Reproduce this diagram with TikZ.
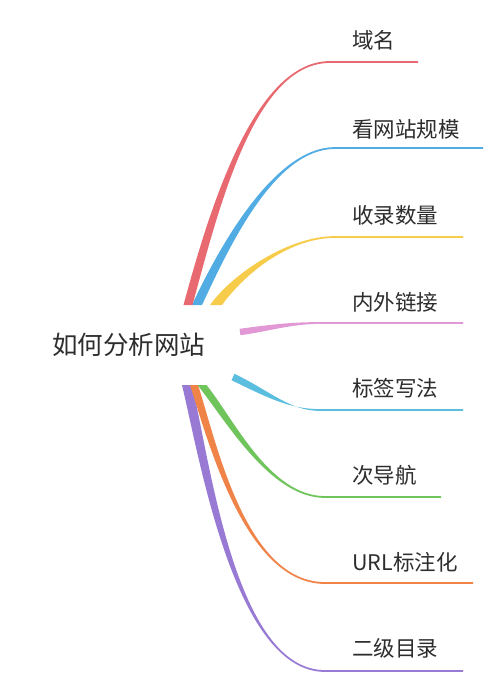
\documentclass[tikz,border=0pt]{standalone}
\usepackage{fontspec}
\newfontfamily\cjkfont{Noto Sans CJK SC}
\usetikzlibrary{calc}
\definecolor{cRed}{RGB}{232,106,112}
\definecolor{cBlue}{RGB}{82,172,228}
\definecolor{cYellow}{RGB}{246,204,74}
\definecolor{cPink}{RGB}{226,152,212}
\definecolor{cCyan}{RGB}{92,190,222}
\definecolor{cGreen}{RGB}{112,196,92}
\definecolor{cOrange}{RGB}{240,132,72}
\definecolor{cPurple}{RGB}{152,122,212}
\definecolor{cText}{RGB}{45,45,45}
% #1 colour, #2 prefix, #3 start half offset, #4 end half offset
\newcommand\tbranch[4]{%
  \fill[#1] ($(#2-0)+(#3)$) .. controls ($(#2-1)+(#3)$) and ($(#2-2)+(#4)$) .. ($(#2-3)+(#4)$)
    -- ($(#2-e)+(#4)$) -- ($(#2-e)-(#4)$) -- ($(#2-3)-(#4)$)
    .. controls ($(#2-2)-(#4)$) and ($(#2-1)-(#3)$) .. ($(#2-0)-(#3)$) -- cycle;}
\begin{document}
\begin{tikzpicture}[x=1pt,y=-1pt,
  lbl/.style={anchor=west,inner sep=0pt,text=cText,font=\cjkfont\fontsize{21.5}{24}\selectfont},
  mainlbl/.style={anchor=west,inner sep=0pt,text=cText,font=\cjkfont\fontsize{25.5}{28}\selectfont}]
\useasboundingbox[fill=white] (0,0) rectangle (500,691);
% red
\coordinate (r-0) at (188,305); \coordinate (r-1) at (215,205); \coordinate (r-2) at (255,62);
\coordinate (r-3) at (330,62); \coordinate (r-e) at (418,62);
% blue
\coordinate (b-0) at (197,305); \coordinate (b-1) at (225,245); \coordinate (b-2) at (275,148);
\coordinate (b-3) at (335,148); \coordinate (b-e) at (483,148);
% yellow
\coordinate (y-0) at (216,305); \coordinate (y-1) at (240,272); \coordinate (y-2) at (290,237);
\coordinate (y-3) at (335,237); \coordinate (y-e) at (463,237);
% pink
\coordinate (p-0) at (240,332); \coordinate (p-1) at (270,328); \coordinate (p-2) at (290,323);
\coordinate (p-3) at (320,323); \coordinate (p-e) at (463,323);
% cyan
\coordinate (c-0) at (233,377); \coordinate (c-1) at (270,395); \coordinate (c-2) at (290,410);
\coordinate (c-3) at (320,410); \coordinate (c-e) at (463,410);
% green
\coordinate (g-0) at (202,385); \coordinate (g-1) at (230,420); \coordinate (g-2) at (270,497);
\coordinate (g-3) at (325,497); \coordinate (g-e) at (441,497);
% orange
\coordinate (o-0) at (194,385); \coordinate (o-1) at (212,440); \coordinate (o-2) at (245,583);
\coordinate (o-3) at (325,583); \coordinate (o-e) at (473,583);
% purple
\coordinate (u-0) at (187,385); \coordinate (u-1) at (205,460); \coordinate (u-2) at (235,671);
\coordinate (u-3) at (325,671); \coordinate (u-e) at (463,671);

\tbranch{cYellow}{y}{6,0}{0,0.9}
\tbranch{cBlue}{b}{5,0}{0,0.9}
\tbranch{cRed}{r}{4.5,0}{0,0.9}
\tbranch{cPink}{p}{0.4,3.2}{0,0.9}
\tbranch{cCyan}{c}{-1.5,3.2}{0,-0.9}
\tbranch{cPurple}{u}{5,0}{0,-0.9}
\tbranch{cOrange}{o}{4,0}{0,-0.9}
\tbranch{cGreen}{g}{4.5,0}{0,-0.9}

\node[mainlbl] (root) at (52,345) {如何分析网站};
\node[lbl] (l1) at (352,40) {域名};
\node[lbl] (l2) at (352,129) {看网站规模};
\node[lbl] (l3) at (352,215) {收录数量};
\node[lbl] (l4) at (352,302) {内外链接};
\node[lbl] (l5) at (352,388) {标签写法};
\node[lbl] (l6) at (352,475) {次导航};
\node[lbl] (l7) at (352,562) {URL标注化};
\node[lbl] (l8) at (352,648) {二级目录};
\end{tikzpicture}
\end{document}
